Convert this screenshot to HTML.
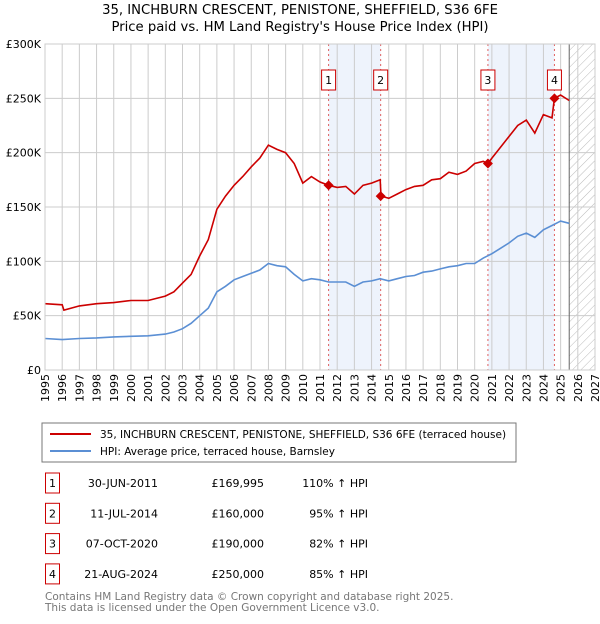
<!DOCTYPE html>
<html><head><meta charset="utf-8"><style>
body{margin:0;background:#fff;font-family:"DejaVu Sans","Liberation Sans",sans-serif}
svg text{font-family:"DejaVu Sans","Liberation Sans",sans-serif}
</style></head><body>
<svg id="c" width="600" height="620" xmlns="http://www.w3.org/2000/svg">
<defs><pattern id="hatch" width="6" height="6" patternUnits="userSpaceOnUse" patternTransform="rotate(45)"><line x1="0" y1="0" x2="0" y2="6" stroke="#bbb" stroke-width="1"/></pattern></defs>
<text x="300" y="14" text-anchor="middle" font-size="13.2">35, INCHBURN CRESCENT, PENISTONE, SHEFFIELD, S36 6FE</text>
<text x="300" y="31" text-anchor="middle" font-size="13.2">Price paid vs. HM Land Registry's House Price Index (HPI)</text>
<g id="plot"></g>
<rect x="42" y="423" width="474" height="39" fill="#fff" stroke="#777"/>
<line x1="50" y1="434" x2="91" y2="434" stroke="#cc0000" stroke-width="2"/>
<text x="100" y="438" font-size="10.5">35, INCHBURN CRESCENT, PENISTONE, SHEFFIELD, S36 6FE (terraced house)</text>
<line x1="50" y1="451" x2="91" y2="451" stroke="#5b8fd4" stroke-width="2"/>
<text x="100" y="455" font-size="10.5">HPI: Average price, terraced house, Barnsley</text>
<g id="tbl" font-size="11"></g>
<text x="45" y="600" font-size="10.5" fill="#777">Contains HM Land Registry data © Crown copyright and database right 2025.</text>
<text x="45" y="611" font-size="10.5" fill="#777">This data is licensed under the Open Government Licence v3.0.</text>
</svg>
<script>
const hpiYears=[1995,1996,1997,1998,1999,2000,2001,2002,2002.5,2003,2003.5,2004,2004.5,2005,2005.5,2006,2006.5,2007,2007.5,2008,2008.5,2009,2009.5,2010,2010.5,2011,2011.5,2012,2012.5,2013,2013.5,2014,2014.5,2015,2015.5,2016,2016.5,2017,2017.5,2018,2018.5,2019,2019.5,2020,2020.5,2021,2021.5,2022,2022.5,2023,2023.5,2024,2024.5,2025,2025.5];
const hpiValues=[29,28,29,29.5,30.5,31,31.5,33,35,38,43,50,57,72,77,83,86,89,92,98,96,95,88,82,84,83,81,81,81,77,81,82,84,82,84,86,87,90,91,93,95,96,98,98,103,107,112,117,123,126,122,129,133,137,135];
const propYears=[1995,1996,1996.1,1997,1998,1999,2000,2001,2002,2002.5,2003,2003.5,2004,2004.5,2005,2005.5,2006,2006.5,2007,2007.5,2008,2008.5,2009,2009.5,2010,2010.5,2011,2011.5,2012,2012.5,2013,2013.5,2014,2014.5,2014.55,2015,2015.5,2016,2016.5,2017,2017.5,2018,2018.5,2019,2019.5,2020,2020.5,2020.77,2021,2021.5,2022,2022.5,2023,2023.5,2024,2024.5,2024.64,2025,2025.5];
const propValues=[61,60,55,59,61,62,64,64,68,72,80,88,105,120,148,160,170,178,187,195,207,203,200,190,172,178,173,170,168,169,162,170,172,175,160,158,162,166,169,170,175,176,182,180,183,190,192,190,195,205,215,225,230,218,235,232,250,253,248];
const saleYears=[2011.5,2014.53,2020.77,2024.64];
const salePrices=[169995,160000,190000,250000];
const saleLabels=["1","2","3","4"];
const saleDates=["30-JUN-2011","11-JUL-2014","07-OCT-2020","21-AUG-2024"];
const salePriceText=["£169,995","£160,000","£190,000","£250,000"];
const saleHpiText=["110% ↑ HPI","95% ↑ HPI","82% ↑ HPI","85% ↑ HPI"];
const yTicks=[0,50,100,150,200,250,300];
const yTickLabels=["£0","£50K","£100K","£150K","£200K","£250K","£300K"];
const xTicks=[1995,1996,1997,1998,1999,2000,2001,2002,2003,2004,2005,2006,2007,2008,2009,2010,2011,2012,2013,2014,2015,2016,2017,2018,2019,2020,2021,2022,2023,2024,2025,2026,2027];

const X0=45,X1=595,Y0=370,Y1=44;
const xs=y=>X0+(y-1995)/(2027-1995)*(X1-X0);
const ys=v=>Y0-v/300*(Y0-Y1);
const NS="http://www.w3.org/2000/svg";
const plot=document.getElementById('plot');
function mk(tag,attrs,parent){const e=document.createElementNS(NS,tag);for(const k in attrs)e.setAttribute(k,attrs[k]);(parent||plot).appendChild(e);return e;}
for(const [a,b] of [[0,1],[2,3]]){const r=mk('rect',{x:xs(saleYears[a]),y:Y1,width:xs(saleYears[b])-xs(saleYears[a]),height:Y0-Y1,fill:'#eef3fc'});

}
const hx=xs(2025.5);
const hr=mk('rect',{x:hx,y:Y1,width:X1-hx,height:Y0-Y1,fill:'url(#hatch)'});


yTicks.forEach((t,i)=>{const l=mk('line',{x1:X0,x2:X1,y1:ys(t),y2:ys(t),stroke:'#ccc'});


const tx=mk('text',{x:X0-4,y:ys(t)+4,'text-anchor':'end','font-size':11});tx.textContent=yTickLabels[i];

});
xTicks.forEach(t=>{const l=mk('line',{x1:xs(t),x2:xs(t),y1:Y1,y2:Y0,stroke:'#ccc'});


const tx=mk('text',{x:0,y:0,'font-size':11,transform:`translate(${xs(t)+4},${Y0+4}) rotate(-90)`,'text-anchor':'end'});tx.textContent=t;

});
const vl=mk('line',{x1:hx,x2:hx,y1:Y1,y2:Y0,stroke:'#666'});


saleYears.forEach((y,i)=>{const l=mk('line',{x1:xs(y),x2:xs(y),y1:Y1,y2:Y0,stroke:'#e06060','stroke-dasharray':'2,3'});


const b=mk('rect',{x:xs(y)-7,y:70,width:14,height:20,fill:'#fff',stroke:'#cc0000'});


const t=mk('text',{x:xs(y),y:84,'text-anchor':'middle','font-size':11});t.textContent=saleLabels[i];

});
function line(xa,va,col,name){const p=mk('path',{d:xa.map((x,i)=>(i?'L':'M')+xs(x).toFixed(1)+','+ys(va[i]).toFixed(1)).join(''),fill:'none',stroke:col,'stroke-width':1.6});

}
line(hpiYears,hpiValues,'#5b8fd4','hpi-line');
line(propYears,propValues,'#cc0000','property-line');
saleYears.forEach((y,i)=>{const cx=xs(y),cy=ys(salePrices[i]/1000);const d=mk('path',{d:`M${cx},${cy-5}L${cx+5},${cy}L${cx},${cy+5}L${cx-5},${cy}Z`,fill:'#cc0000'});

});
const ax=mk('rect',{x:X0,y:Y1,width:X1-X0,height:Y0-Y1,fill:'none',stroke:'#ccc'});


const tbl=document.getElementById('tbl');
saleYears.forEach((y,i)=>{const ry=483+i*30.3;
const b=mk('rect',{x:45.5,y:ry-10,width:14,height:20,fill:'#fff',stroke:'#cc0000'},tbl);


const cells=[[52.5,saleLabels[i],'middle','table-row-number'],[158,saleDates[i],'end','table-row-date'],[264,salePriceText[i],'end','table-row-price'],[368,saleHpiText[i],'end','table-row-hpi']];
cells.forEach(c=>{const t=mk('text',{x:c[0],y:ry+4,'text-anchor':c[2]},tbl);t.textContent=c[1];

});});
</script>
</body></html>
